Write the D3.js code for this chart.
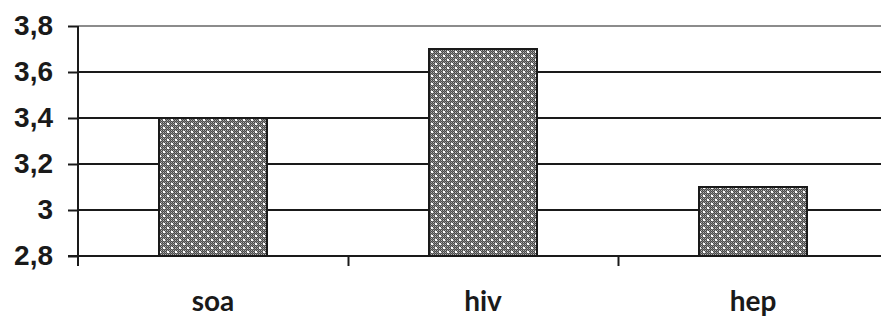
<!DOCTYPE html>
<html lang="en">
<head>
  <meta charset="UTF-8">
  <script src="https://cdnjs.cloudflare.com/ajax/libs/d3/7.8.5/d3.min.js"></script>
  <title>soa hiv hep</title>
  <style>
    body { margin: 0; background: #fff; }
  </style>
</head>
<body>
  <div id="chart"></div>
  <script>
    const categories = ['soa', 'hiv', 'hep'];
    const values = [3.4, 3.7, 3.1];
    const yTicks = [2.8, 3, 3.2, 3.4, 3.6, 3.8];

    const W = 881, H = 317;
    const margin = { top: 26, right: -7, bottom: 61, left: 78 };
    const width = W - margin.left - margin.right;
    const height = H - margin.top - margin.bottom;

    const svg = d3.select('#chart')
      .append('svg')
      .attr('width', W)
      .attr('height', H);

    // dotted grey fill like the original
    const defs = svg.append('defs');
    const pat = defs.append('pattern')
      .attr('id', 'dots')
      .attr('patternUnits', 'userSpaceOnUse')
      .attr('width', 8).attr('height', 8);
    pat.append('rect').attr('width', 8).attr('height', 8).attr('fill', '#7a7a7a');
    for (let i = 0; i < 8; i += 2) {
      for (let j = 0; j < 8; j += 2) {
        pat.append('rect').attr('x', i).attr('y', j)
          .attr('width', 1).attr('height', 1).attr('fill', '#4a4a4a');
        pat.append('rect').attr('x', i + 1).attr('y', j + 1)
          .attr('width', 1).attr('height', 1).attr('fill', '#4a4a4a');
        pat.append('rect').attr('x', i + 1).attr('y', j)
          .attr('width', 1).attr('height', 1).attr('fill', '#b0b0b0');
      }
    }
    pat.append('rect').attr('x', 1).attr('y', 1).attr('width', 2).attr('height', 2).attr('fill', '#fff');
    pat.append('rect').attr('x', 5).attr('y', 5).attr('width', 2).attr('height', 2).attr('fill', '#fff');

    const g = svg.append('g')
      .attr('transform', `translate(${margin.left}, ${margin.top})`);

    const x = d3.scaleBand()
      .domain(categories)
      .range([0, width])
      .paddingInner(0.6)
      .paddingOuter(0.3);

    const xTickScale = d3.scaleLinear().domain([0, categories.length]).range([0, width]);

    const y = d3.scaleLinear()
      .domain([2.8, 3.8])
      .range([height, 0]);

    // gridlines
    g.selectAll('.grid')
      .data(yTicks.slice(1))
      .enter()
      .append('line')
      .attr('x1', 0).attr('x2', width)
      .attr('y1', d => y(d)).attr('y2', d => y(d))
      .attr('stroke', d => d === 3.8 ? '#8c8c8c' : '#1a1a1a')
      .attr('stroke-width', 2);

    // bars
    g.selectAll('.bar')
      .data(categories)
      .enter()
      .append('rect')
      .attr('x', d => x(d))
      .attr('width', x.bandwidth())
      .attr('y', (d, i) => y(values[i]))
      .attr('height', (d, i) => height - y(values[i]))
      .attr('fill', 'url(#dots)')
      .attr('stroke', '#1a1a1a')
      .attr('stroke-width', 2);

    // y axis
    const yAxis = g.append('g')
      .call(d3.axisLeft(y).tickValues(yTicks).tickSize(10).tickPadding(15)
        .tickFormat(d => String(d).replace('.', ',')));
    yAxis.select('.domain').remove();
    yAxis.selectAll('.tick line').attr('stroke', '#1a1a1a').attr('stroke-width', 2);
    yAxis.selectAll('text')
      .attr('fill', '#1a1a1a')
      .style('font-family', '"Liberation Sans", Arial, sans-serif')
      .style('font-weight', 'bold')
      .style('font-size', '28px');
    g.append('line')
      .attr('x1', 0).attr('x2', 0)
      .attr('y1', 0).attr('y2', height + 10)
      .attr('stroke', '#1a1a1a').attr('stroke-width', 2);

    // x axis
    const xAxis = g.append('g')
      .attr('transform', `translate(0, ${height})`)
      .call(d3.axisBottom(xTickScale).tickValues(d3.range(1, categories.length + 1)).tickSize(10).tickFormat(''));
    xAxis.select('.domain').remove();
    xAxis.selectAll('.tick line').attr('stroke', '#1a1a1a').attr('stroke-width', 2);
    g.append('line')
      .attr('x1', -10).attr('x2', width)
      .attr('y1', height).attr('y2', height)
      .attr('stroke', '#1a1a1a').attr('stroke-width', 2);

    g.selectAll('.cat')
      .data(categories)
      .enter()
      .append('text')
      .attr('x', d => x(d) + x.bandwidth() / 2)
      .attr('y', height + 55)
      .attr('text-anchor', 'middle')
      .attr('fill', '#1a1a1a')
      .style('font-family', 'Lato, "Open Sans", sans-serif')
      .style('font-weight', 'bold')
      .style('font-size', '28px')
      .text(d => d);
  </script>
</body>
</html>
